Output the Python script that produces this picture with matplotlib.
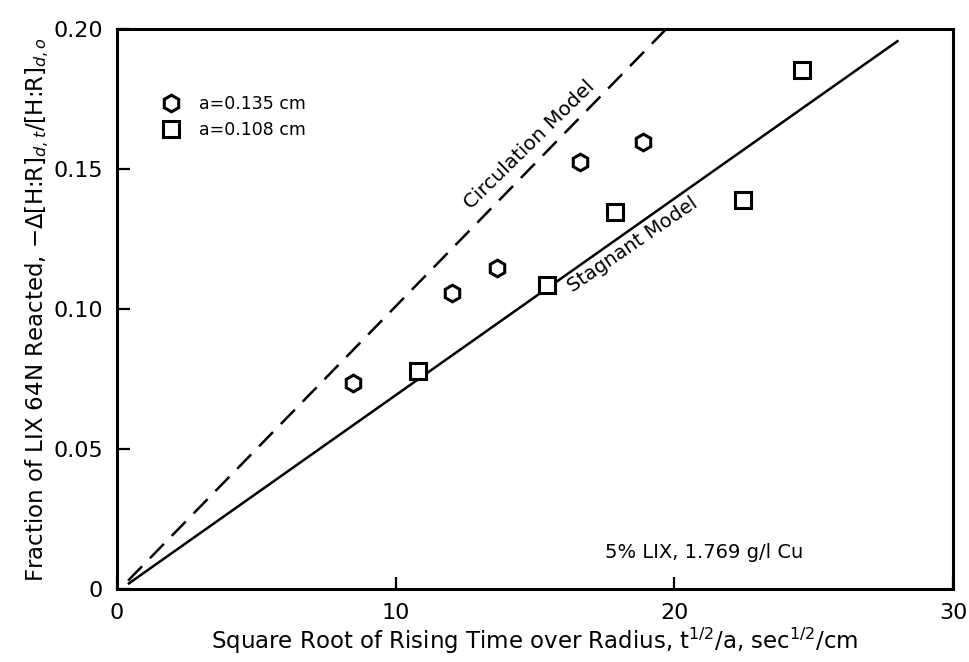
import matplotlib

matplotlib.use("Agg")
import matplotlib.pyplot as plt

# data
hex_x = [8.47, 12.02, 13.63, 16.61, 18.87]
hex_y = [0.0736, 0.1057, 0.1146, 0.1525, 0.1596]
sq_x = [10.8, 15.43, 17.87, 22.46, 24.58]
sq_y = [0.0779, 0.1086, 0.1346, 0.1389, 0.1854]

# model lines (end points)
circ_x = [0.4, 19.7]
circ_y = [0.003, 0.200]
stag_x = [0.43, 28.0]
stag_y = [0.002, 0.1957]

x_ticks = [0, 10, 20, 30]
x_ticklabels = ["0", "10", "20", "30"]
y_ticks = [0, 0.05, 0.10, 0.15, 0.20]
y_ticklabels = ["0", "0.05", "0.10", "0.15", "0.20"]

plt.rcParams["font.family"] = ["DejaVu Sans"]

fig = plt.figure(figsize=(9.69, 6.62), dpi=100)
ax = fig.add_axes([0.1207, 0.1103, 0.863, 0.8457])

ax.plot(circ_x, circ_y, color="black", lw=1.8, dashes=(8, 4.5))
ax.plot(stag_x, stag_y, color="black", lw=1.8)

ax.plot(hex_x, hex_y, linestyle="none", marker="h", ms=12, mfc="white",
        mec="black", mew=2.2, label="a=0.135 cm")
ax.plot(sq_x, sq_y, linestyle="none", marker="s", ms=11, mfc="white",
        mec="black", mew=2.2, label="a=0.108 cm")

ax.legend(loc="upper left", bbox_to_anchor=(0.025, 0.91), frameon=False,
          fontsize=12.5, handletextpad=0.6, labelspacing=0.45)

ax.text(14.8, 0.1585, "Circulation Model", rotation=44.5, ha="center",
        va="center", fontsize=14.5)
ax.text(18.5, 0.123, "Stagnant Model", rotation=34.5, ha="center",
        va="center", fontsize=14)
ax.text(21.06, 0.0132, "5% LIX, 1.769 g/l Cu", ha="center", va="center",
        fontsize=14)

ax.set_xlim(0, 30)
ax.set_ylim(0, 0.20)
ax.set_xticks(x_ticks)
ax.set_xticklabels(x_ticklabels)
ax.set_yticks(y_ticks)
ax.set_yticklabels(y_ticklabels)
ax.tick_params(direction="in", length=9, width=1.6, labelsize=16, pad=10)
for s in ax.spines.values():
    s.set_linewidth(2.2)

ax.set_xlabel(r"Square Root of Rising Time over Radius, t$^{1/2}$/a, sec$^{1/2}$/cm",
              fontsize=16.5, labelpad=2)
ax.set_ylabel(r"Fraction of LIX 64N Reacted, $-\Delta$[H:R]$_{d,t}$/[H:R]$_{d,o}$",
              fontsize=16.5, labelpad=2)

fig.savefig("out.png", dpi=100)
